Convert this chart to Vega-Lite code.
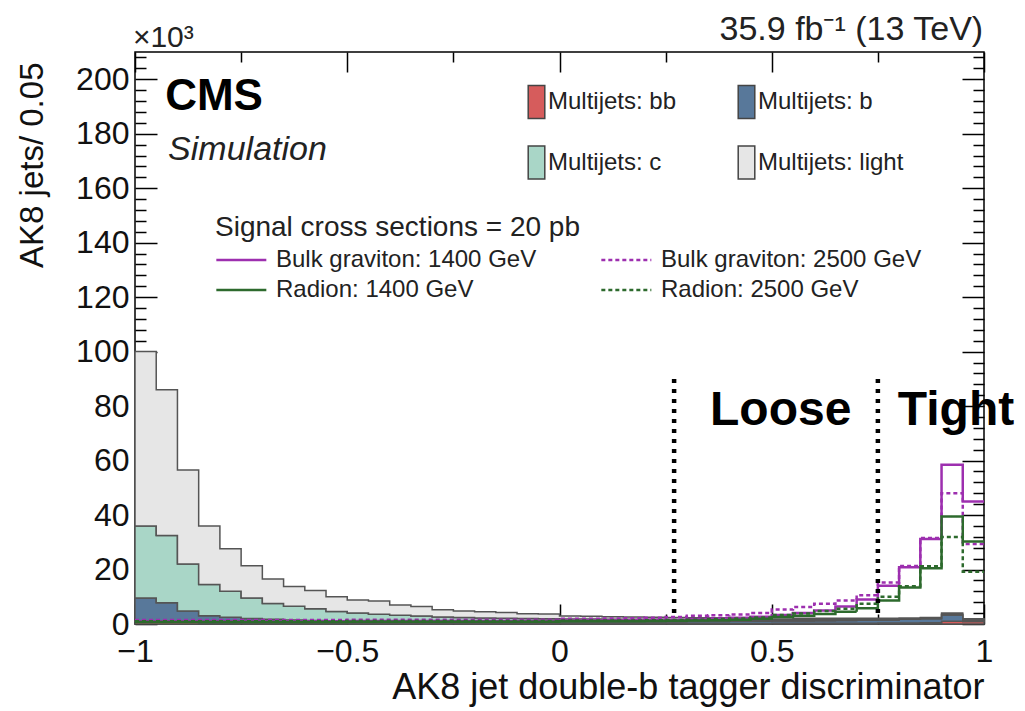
{
  "$schema": "https://vega.github.io/schema/vega-lite/v6.json",
  "width": 849,
  "height": 572,
  "autosize": {"type": "none"},
  "padding": {"left": 135, "top": 52, "right": 41, "bottom": 87},
  "config": {
    "font": "Liberation Sans",
    "view": {"stroke": "#000", "strokeWidth": 1.5},
    "axis": {"grid": false, "domain": false, "tickColor": "#000", "tickWidth": 1.5, "labelColor": "#111", "titleColor": "#111", "labelFont": "Liberation Sans", "titleFont": "Liberation Sans", "labelFontSize": 32, "titleFontSize": 33, "titleFontWeight": "normal", "labelFlush": false, "labelOverlap": false, "labelBound": false, "zindex": 1}
  },
  "datasets": {
    "h": [
      {"x": -1, "bb": 1.0, "bjet": 8.5, "c": 26.5, "light": 64, "g1400": 1.0, "g2500": 1.5, "r1400": 0.7, "r2500": 1.0},
      {"x": -0.95, "bb": 0.8, "bjet": 7.0, "c": 24.7, "light": 53.5, "g1400": 1.0, "g2500": 1.5, "r1400": 0.7, "r2500": 1.0},
      {"x": -0.9, "bb": 0.6, "bjet": 4.2, "c": 17.2, "light": 34.5, "g1400": 1.0, "g2500": 1.5, "r1400": 0.7, "r2500": 1.0},
      {"x": -0.85, "bb": 0.5, "bjet": 2.5, "c": 11.5, "light": 21.5, "g1400": 1.0, "g2500": 1.5, "r1400": 0.7, "r2500": 1.0},
      {"x": -0.8, "bb": 0.4, "bjet": 2.1, "c": 9.5, "light": 15.6, "g1400": 1.0, "g2500": 1.5, "r1400": 0.7, "r2500": 1.0},
      {"x": -0.75, "bb": 0.35, "bjet": 1.65, "c": 7.5, "light": 11.9, "g1400": 1.0, "g2500": 1.5, "r1400": 0.7, "r2500": 1.0},
      {"x": -0.7, "bb": 0.3, "bjet": 1.4, "c": 5.8, "light": 9.0, "g1400": 1.0, "g2500": 1.5, "r1400": 0.7, "r2500": 1.0},
      {"x": -0.65, "bb": 0.3, "bjet": 1.2, "c": 5.0, "light": 7.3, "g1400": 1.0, "g2500": 1.5, "r1400": 0.7, "r2500": 1.0},
      {"x": -0.6, "bb": 0.25, "bjet": 1.05, "c": 4.3, "light": 6.7, "g1400": 1.0, "g2500": 1.5, "r1400": 0.7, "r2500": 1.0},
      {"x": -0.55, "bb": 0.25, "bjet": 0.95, "c": 3.4, "light": 5.4, "g1400": 1.0, "g2500": 1.5, "r1400": 0.7, "r2500": 1.0},
      {"x": -0.5, "bb": 0.2, "bjet": 0.9, "c": 2.9, "light": 4.8, "g1400": 1.1, "g2500": 1.6, "r1400": 0.8, "r2500": 1.1},
      {"x": -0.45, "bb": 0.2, "bjet": 0.8, "c": 2.6, "light": 4.8, "g1400": 1.1, "g2500": 1.6, "r1400": 0.8, "r2500": 1.1},
      {"x": -0.4, "bb": 0.2, "bjet": 0.7, "c": 2.3, "light": 3.8, "g1400": 1.1, "g2500": 1.6, "r1400": 0.8, "r2500": 1.1},
      {"x": -0.35, "bb": 0.2, "bjet": 0.7, "c": 2.0, "light": 3.5, "g1400": 1.1, "g2500": 1.6, "r1400": 0.8, "r2500": 1.1},
      {"x": -0.3, "bb": 0.2, "bjet": 0.6, "c": 1.8, "light": 2.6, "g1400": 1.1, "g2500": 1.6, "r1400": 0.8, "r2500": 1.1},
      {"x": -0.25, "bb": 0.2, "bjet": 0.6, "c": 1.6, "light": 2.4, "g1400": 1.1, "g2500": 1.6, "r1400": 0.8, "r2500": 1.1},
      {"x": -0.2, "bb": 0.2, "bjet": 0.6, "c": 1.4, "light": 2.3, "g1400": 1.1, "g2500": 1.6, "r1400": 0.8, "r2500": 1.1},
      {"x": -0.15, "bb": 0.2, "bjet": 0.6, "c": 1.3, "light": 2.1, "g1400": 1.1, "g2500": 1.6, "r1400": 0.8, "r2500": 1.1},
      {"x": -0.1, "bb": 0.2, "bjet": 0.6, "c": 1.2, "light": 1.8, "g1400": 1.1, "g2500": 1.6, "r1400": 0.8, "r2500": 1.1},
      {"x": -0.05, "bb": 0.2, "bjet": 0.6, "c": 1.1, "light": 1.8, "g1400": 1.1, "g2500": 1.6, "r1400": 0.8, "r2500": 1.1},
      {"x": 0, "bb": 0.2, "bjet": 0.6, "c": 1.0, "light": 1.1, "g1400": 1.3, "g2500": 1.9, "r1400": 1.0, "r2500": 1.3},
      {"x": 0.05, "bb": 0.2, "bjet": 0.6, "c": 1.0, "light": 1.0, "g1400": 1.3, "g2500": 1.9, "r1400": 1.0, "r2500": 1.3},
      {"x": 0.1, "bb": 0.2, "bjet": 0.6, "c": 0.9, "light": 1.0, "g1400": 1.3, "g2500": 2.0, "r1400": 1.0, "r2500": 1.3},
      {"x": 0.15, "bb": 0.2, "bjet": 0.6, "c": 0.9, "light": 0.9, "g1400": 1.4, "g2500": 2.1, "r1400": 1.0, "r2500": 1.3},
      {"x": 0.2, "bb": 0.2, "bjet": 0.6, "c": 0.9, "light": 0.8, "g1400": 1.5, "g2500": 2.3, "r1400": 1.1, "r2500": 1.4},
      {"x": 0.25, "bb": 0.2, "bjet": 0.6, "c": 0.8, "light": 0.8, "g1400": 1.6, "g2500": 2.6, "r1400": 1.2, "r2500": 1.5},
      {"x": 0.3, "bb": 0.2, "bjet": 0.7, "c": 0.7, "light": 0.7, "g1400": 1.8, "g2500": 3.0, "r1400": 1.3, "r2500": 1.6},
      {"x": 0.35, "bb": 0.2, "bjet": 0.7, "c": 0.7, "light": 0.7, "g1400": 2.0, "g2500": 3.2, "r1400": 1.4, "r2500": 1.8},
      {"x": 0.4, "bb": 0.2, "bjet": 0.8, "c": 0.6, "light": 0.6, "g1400": 2.3, "g2500": 3.5, "r1400": 1.6, "r2500": 2.0},
      {"x": 0.45, "bb": 0.2, "bjet": 0.8, "c": 0.6, "light": 0.6, "g1400": 2.7, "g2500": 4.0, "r1400": 1.9, "r2500": 2.4},
      {"x": 0.5, "bb": 0.25, "bjet": 0.85, "c": 0.5, "light": 0.6, "g1400": 3.3, "g2500": 5.3, "r1400": 2.6, "r2500": 3.3},
      {"x": 0.55, "bb": 0.25, "bjet": 0.85, "c": 0.5, "light": 0.5, "g1400": 4.0, "g2500": 6.2, "r1400": 3.0, "r2500": 3.9},
      {"x": 0.6, "bb": 0.25, "bjet": 0.95, "c": 0.4, "light": 0.5, "g1400": 5.0, "g2500": 7.4, "r1400": 3.7, "r2500": 4.8},
      {"x": 0.65, "bb": 0.3, "bjet": 1.0, "c": 0.3, "light": 0.5, "g1400": 6.4, "g2500": 8.6, "r1400": 4.5, "r2500": 5.6},
      {"x": 0.7, "bb": 0.3, "bjet": 1.1, "c": 0.3, "light": 0.4, "g1400": 9.0, "g2500": 10.6, "r1400": 5.8, "r2500": 7.4},
      {"x": 0.75, "bb": 0.35, "bjet": 1.15, "c": 0.2, "light": 0.4, "g1400": 14.0, "g2500": 15.2, "r1400": 8.6, "r2500": 10.0},
      {"x": 0.8, "bb": 0.4, "bjet": 1.3, "c": 0.2, "light": 0.3, "g1400": 20.8, "g2500": 21.3, "r1400": 13.4, "r2500": 13.9},
      {"x": 0.85, "bb": 0.5, "bjet": 1.4, "c": 0.2, "light": 0.3, "g1400": 31.2, "g2500": 31.6, "r1400": 20.5, "r2500": 21.2},
      {"x": 0.9, "bb": 1.0, "bjet": 2.3, "c": 0.3, "light": 0.4, "g1400": 58.5, "g2500": 48.0, "r1400": 39.5, "r2500": 31.9},
      {"x": 0.95, "bb": 0.9, "bjet": 0.6, "c": 0.2, "light": 0.2, "g1400": 45.0, "g2500": 29.4, "r1400": 30.3, "r2500": 19.2},
      {"x": 1, "bb": 0.9, "bjet": 0.6, "c": 0.2, "light": 0.2, "g1400": 45.0, "g2500": 29.4, "r1400": 30.3, "r2500": 19.2}
    ],
    "cuts": [{"cut": 0.27, "name": "Loose"}, {"cut": 0.75, "name": "Tight"}]
  },
  "data": {"values": [{}]},
  "layer": [
    {
      "layer": [
        {
          "data": {"name": "h"},
          "transform": [{"fold": ["bb", "bjet", "c", "light"], "as": ["cat", "v"]}],
          "mark": {"type": "area", "interpolate": "step-after", "stroke": "#555", "strokeWidth": 1.5, "opacity": 1, "fillOpacity": 1},
          "encoding": {
            "x": {
              "field": "x", "type": "quantitative",
              "scale": {"domain": [-1, 1], "nice": false},
              "axis": {
                "orient": "bottom",
                "values": [-1, -0.5, 0, 0.5, 1],
                "format": ".1~f",
                "tickSize": -20,
                "labelPadding": 32,
                "labelOverlap": false,
                "title": "AK8 jet double-b tagger discriminator",
                "titleFontSize": 36,
                "titleAnchor": "end", "titleAlign": "right", "titleBaseline": "alphabetic",
                "titleX": 849, "titleY": 74
              }
            },
            "y": {
              "field": "v", "type": "quantitative", "stack": "zero",
              "scale": {"domain": [0, 210], "nice": false},
              "axis": {
                "orient": "left",
                "values": [0, 20, 40, 60, 80, 100, 120, 140, 160, 180, 200],
                "format": "d",
                "tickSize": -22,
                "labelPadding": 28,
                "labelOverlap": false,
                "title": "AK8 jets/ 0.05",
                "titleAngle": -90, "titleAlign": "right", "titleBaseline": "middle",
                "titleX": -103, "titleY": 10
              }
            },
            "fill": {
              "field": "cat", "type": "nominal",
              "scale": {"domain": ["bb", "bjet", "c", "light"], "range": ["#d65c5c", "#58789a", "#a9d6c7", "#e6e6e6"]},
              "legend": {
                "title": null, "orient": "none", "legendX": 384, "legendY": 32,
                "direction": "horizontal",
                "columns": 2, "columnPadding": 52, "rowPadding": 20,
                "symbolType": "M-0.5,-1L0.5,-1L0.5,1L-0.5,1Z", "symbolSize": 1100,
                "symbolStrokeColor": "#444", "symbolStrokeWidth": 1.5, "symbolOpacity": 1,
                "labelFontSize": 24, "labelOffset": -6, "labelLimit": 400, "labelColor": "#222",
                "labelExpr": "datum.label === 'bjet' ? 'Multijets: b' : 'Multijets: ' + datum.label"
              }
            },
            "order": {"field": "cat"}
          }
        },
        {
          "data": {"name": "h"},
          "transform": [{"fold": ["g1400", "g2500", "r1400", "r2500"], "as": ["sig", "s"]}],
          "mark": {"type": "line", "interpolate": "step-after", "strokeWidth": 2.5},
          "encoding": {
            "x": {"field": "x", "type": "quantitative"},
            "y": {"field": "s", "type": "quantitative"},
            "stroke": {
              "field": "sig", "type": "nominal",
              "scale": {"domain": ["g1400", "g2500", "r1400", "r2500"], "range": ["#9d2faf", "#9d2faf", "#2d6a2d", "#2d6a2d"]},
              "legend": {
                "title": "Signal cross sections = 20 pb", "orient": "none", "legendX": 80, "legendY": 162,
                "direction": "horizontal",
                "columns": 2, "columnPadding": 59, "rowPadding": 0,
                "symbolType": "M-1,0L2,0", "symbolSize": 1111, "symbolStrokeWidth": 2.5,
                "labelFontSize": 24, "labelOffset": 25, "labelLimit": 400, "labelColor": "#222",
                "titleFontSize": 28, "titleFontWeight": "normal", "titleLimit": 600, "titlePadding": 0, "titleColor": "#222",
                "labelExpr": "datum.label === 'g1400' ? 'Bulk graviton: 1400 GeV' : datum.label === 'g2500' ? 'Bulk graviton: 2500 GeV' : datum.label === 'r1400' ? 'Radion: 1400 GeV' : 'Radion: 2500 GeV'"
              }
            },
            "strokeDash": {
              "field": "sig", "type": "nominal",
              "scale": {"domain": ["g1400", "g2500", "r1400", "r2500"], "range": [[1, 0], [4, 3], [1, 0], [4, 3]]},
              "legend": {
                "title": "Signal cross sections = 20 pb", "orient": "none", "legendX": 80, "legendY": 162,
                "direction": "horizontal",
                "columns": 2, "columnPadding": 59, "rowPadding": 0,
                "symbolType": "M-1,0L2,0", "symbolSize": 1111, "symbolStrokeWidth": 2.5,
                "labelFontSize": 24, "labelOffset": 25, "labelLimit": 400, "labelColor": "#222",
                "titleFontSize": 28, "titleFontWeight": "normal", "titleLimit": 600, "titlePadding": 0, "titleColor": "#222",
                "labelExpr": "datum.label === 'g1400' ? 'Bulk graviton: 1400 GeV' : datum.label === 'g2500' ? 'Bulk graviton: 2500 GeV' : datum.label === 'r1400' ? 'Radion: 1400 GeV' : 'Radion: 2500 GeV'"
              }
            }
          }
        },
        {
          "data": {"name": "cuts"},
          "mark": {"type": "rule", "color": "#000", "strokeWidth": 4.5, "strokeDash": [4, 6]},
          "encoding": {
            "x": {"field": "cut", "type": "quantitative"},
            "y": {"datum": 4},
            "y2": {"datum": 91.5}
          }
        },
        {
          "mark": {"type": "text", "text": "CMS", "fontWeight": "bold", "fontSize": 44, "align": "left", "baseline": "alphabetic", "color": "#000"},
          "encoding": {"x": {"datum": -0.929}, "y": {"datum": 188.7}}
        },
        {
          "mark": {"type": "text", "text": "Simulation", "fontStyle": "italic", "fontSize": 34, "align": "left", "baseline": "alphabetic", "color": "#222"},
          "encoding": {"x": {"datum": -0.922}, "y": {"datum": 170.4}}
        },
        {
          "mark": {"type": "text", "text": "Loose", "fontWeight": "bold", "fontSize": 48, "align": "left", "baseline": "alphabetic", "color": "#000"},
          "encoding": {"x": {"datum": 0.3545}, "y": {"datum": 73.1}}
        },
        {
          "mark": {"type": "text", "text": "Tight", "fontWeight": "bold", "fontSize": 48, "align": "left", "baseline": "alphabetic", "color": "#000"},
          "encoding": {"x": {"datum": 0.797}, "y": {"datum": 73.1}}
        },
        {
          "mark": {"type": "text", "text": "35.9 fb⁻¹ (13 TeV)", "fontSize": 34, "align": "right", "baseline": "alphabetic", "color": "#222"},
          "encoding": {"x": {"datum": 0.998}, "y": {"datum": 214.4}}
        },
        {
          "mark": {"type": "text", "text": "×10³", "fontSize": 30, "align": "left", "baseline": "alphabetic", "color": "#222"},
          "encoding": {"x": {"datum": -1.005}, "y": {"datum": 211.8}}
        }
      ]
    },
    {
      "data": {"name": "h"},
      "mark": {"type": "point", "opacity": 0},
      "encoding": {
        "x": {
          "field": "x", "type": "quantitative",
          "scale": {"domain": [-1, 1], "nice": false},
          "axis": {
            "orient": "bottom",
            "values": [-0.75, -0.25, 0.25, 0.75],
            "tickSize": -10,
            "labels": false, "title": null
          }
        },
        "y": {
          "field": "light", "type": "quantitative",
          "scale": {"domain": [0, 210], "nice": false},
          "axis": {
            "orient": "left",
            "values": [4,8,12,16,24,28,32,36,44,48,52,56,64,68,72,76,84,88,92,96,104,108,112,116,124,128,132,136,144,148,152,156,164,168,172,176,184,188,192,196,204,208],
            "tickSize": -11,
            "labels": false, "title": null
          }
        }
      }
    },
    {
      "data": {"name": "h"},
      "mark": {"type": "point", "opacity": 0},
      "encoding": {
        "x": {
          "field": "x", "type": "quantitative",
          "scale": {"domain": [-1, 1], "nice": false},
          "axis": {
            "orient": "top",
            "values": [-1, -0.75, -0.5, -0.25, 0, 0.25, 0.5, 0.75, 1],
            "tickSize": {"condition": {"test": "abs(datum.value*2 - round(datum.value*2)) < 0.001", "value": -20}, "value": -10},
            "labels": false, "title": null
          }
        },
        "y": {
          "field": "light", "type": "quantitative",
          "scale": {"domain": [0, 210], "nice": false},
          "axis": {
            "orient": "right",
            "values": [0,4,8,12,16,20,24,28,32,36,40,44,48,52,56,60,64,68,72,76,80,84,88,92,96,100,104,108,112,116,120,124,128,132,136,140,144,148,152,156,160,164,168,172,176,180,184,188,192,196,200,204,208],
            "tickSize": {"condition": {"test": "datum.value % 20 === 0", "value": -22}, "value": -11},
            "labels": false, "title": null
          }
        }
      }
    }
  ],
  "resolve": {
    "scale": {"x": "independent", "y": "independent"},
    "axis": {"x": "independent", "y": "independent"}
  }
}
